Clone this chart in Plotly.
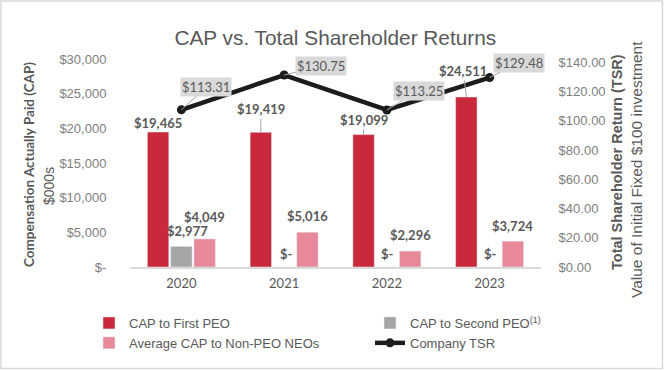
import plotly.graph_objects as go

# ---------------- data ----------------
years = ["2020", "2021", "2022", "2023"]
cap_first_peo = [19465, 19419, 19099, 24511]
cap_second_peo = [2977, 0, 0, 0]
avg_cap_non_peo = [4049, 5016, 2296, 3724]
company_tsr = [113.31, 130.75, 113.25, 129.48]

cap_tick_vals = [0, 5000, 10000, 15000, 20000, 25000, 30000]
cap_tick_text = ["$-", "$5,000", "$10,000", "$15,000", "$20,000", "$25,000", "$30,000"]
tsr_tick_vals = [0, 20, 40, 60, 80, 100, 120, 140]
tsr_tick_text = ["$0.00", "$20.00", "$40.00", "$60.00", "$80.00", "$100.00", "$120.00", "$140.00"]

series_names = ["CAP to First PEO", "CAP to Second PEO<sup>(1)</sup>",
                "Average CAP to Non-PEO NEOs", "Company TSR"]

# ---------------- style ----------------
RED = "#C8293B"
GREY = "#A5A5A5"
PINK = "#E8899A"
LINE = "#1C1C1C"
TXT = "#595959"
TICK = "#808080"
SANS = "Liberation Sans, Arial, sans-serif"
CAL = "Lato, Open Sans, sans-serif"

W, H = 664, 370
ML, MR, MT, MB = 130, 123, 59, 103
PW = W - ML - MR
PH = H - MT - MB
BARGAP = 0.32
BARGROUPGAP = 0.08
cat_w = PW / len(years)
slot = cat_w * (1 - BARGAP) / 3
bar_shift = [-slot, 0, slot]


def money(v):
    return "$-" if v == 0 else "${:,.0f}".format(v)


def px_x(p):
    return (p - ML) / PW


def px_y(p):
    return ((H - MB) - p) / PH


fig = go.Figure()
fig.add_trace(go.Bar(x=years, y=cap_first_peo, name=series_names[0], marker_color=RED,
                     yaxis="y", legend="legend"))
fig.add_trace(go.Bar(x=years, y=cap_second_peo, name=series_names[1], marker_color=GREY,
                     yaxis="y", legend="legend2"))
fig.add_trace(go.Bar(x=years, y=avg_cap_non_peo, name=series_names[2], marker_color=PINK,
                     yaxis="y", legend="legend"))
# invisible trace so that the right (visible) TSR axis is drawn
fig.add_trace(go.Scatter(x=years, y=company_tsr, yaxis="y2", mode="markers",
                         marker=dict(opacity=0), showlegend=False, hoverinfo="skip"))
fig.add_trace(go.Scatter(x=years, y=company_tsr, name=series_names[3], yaxis="y3",
                         mode="lines+markers", legend="legend2",
                         line=dict(color=LINE, width=4.5),
                         marker=dict(color=LINE, size=9)))

annotations = []
label_font = dict(family=CAL, size=13, color=TXT, weight="bold")

# --- bar data labels (x given as category serial number) ---
red_offsets = [9, 23, 15, 26]
red_leader = [False, True, True, True]
red_nudge = [0, 0, 0, -3]
for i, yr in enumerate(years):
    v = cap_first_peo[i]
    if red_leader[i]:
        annotations.append(dict(x=i, y=v, xref="x", yref="y", text=money(v),
                                showarrow=True, arrowhead=0, arrowwidth=1,
                                arrowcolor="#A6A6A6", ax=red_nudge[i], ay=-red_offsets[i],
                                xshift=bar_shift[0], font=label_font))
    else:
        annotations.append(dict(x=i, y=v, xref="x", yref="y", text=money(v),
                                showarrow=False, yanchor="middle",
                                yshift=red_offsets[i], xshift=bar_shift[0] + red_nudge[i],
                                font=label_font))

grey_offsets = [15, 13, 13, 13]
grey_nudge = [6, 2, 1, 1]
pink_offsets = [22, 16, 16, 15]
for i, yr in enumerate(years):
    annotations.append(dict(x=i, y=cap_second_peo[i], xref="x", yref="y",
                            text=money(cap_second_peo[i]), showarrow=False,
                            yanchor="middle", yshift=grey_offsets[i],
                            xshift=bar_shift[1] + grey_nudge[i], font=label_font))
    annotations.append(dict(x=i, y=avg_cap_non_peo[i], xref="x", yref="y",
                            text=money(avg_cap_non_peo[i]), showarrow=False,
                            yanchor="middle", yshift=pink_offsets[i],
                            xshift=bar_shift[2], font=label_font))

# --- TSR labels ---
tsr_ax = [25, 37, 32, 29]
tsr_ay = [-23, -9, -19, -15]
for i, yr in enumerate(years):
    annotations.append(dict(x=i, y=company_tsr[i], xref="x", yref="y3",
                            text="${:.2f}".format(company_tsr[i]),
                            showarrow=True, arrowhead=0, arrowwidth=1,
                            arrowcolor="#A6A6A6", ax=tsr_ax[i], ay=tsr_ay[i],
                            bgcolor="#D9D9D9", borderpad=1,
                            font=dict(family=CAL, size=13, color=TXT)))

# --- axis titles ---
annotations += [
    dict(x=px_x(29), y=px_y(165), xref="paper", yref="paper", xanchor="center",
         yanchor="middle", text="<b>Compensation Actually Paid (CAP)</b>", textangle=-90,
         showarrow=False, font=dict(family=CAL, size=13.5, color=TXT)),
    dict(x=px_x(49), y=px_y(186), xref="paper", yref="paper", xanchor="center",
         yanchor="middle", text="$000s",
         textangle=-90, showarrow=False, font=dict(family=SANS, size=14, color=TXT)),
    dict(x=px_x(617), y=px_y(162), xref="paper", yref="paper", xanchor="center",
         yanchor="middle", text="<b>Total Shareholder Return (TSR)</b>", textangle=-90,
         showarrow=False, font=dict(family=SANS, size=14.5, color=TXT)),
    dict(x=px_x(636), y=px_y(170), xref="paper", yref="paper", xanchor="center",
         yanchor="middle", text="Value of Initial Fixed $100 investment", textangle=-90,
         showarrow=False, font=dict(family=SANS, size=15.5, color=TXT)),
]

legend_font = dict(family=SANS, size=13, color=TXT)
fig.update_layout(
    width=W, height=H,
    margin=dict(l=ML, r=MR, t=MT, b=MB, autoexpand=False),
    paper_bgcolor="white", plot_bgcolor="white",
    barmode="group", bargap=BARGAP, bargroupgap=BARGROUPGAP,
    title=dict(text="CAP vs. Total Shareholder Returns", x=0.505, xanchor="center",
               y=1 - 38 / H, yanchor="middle",
               font=dict(family=SANS, size=20.8, color=TXT)),
    xaxis=dict(type="category", categoryorder="array", categoryarray=years,
               range=[-0.5, len(years) - 0.5], autorange=False,
               showgrid=False, showline=True, linecolor="#D9D9D9",
               linewidth=1.5, ticks="outside", ticklen=4, tickcolor="rgba(0,0,0,0)",
               tickfont=dict(family=CAL, size=13, color=TXT)),
    yaxis=dict(range=[0, 30000], autorange=False, tickvals=cap_tick_vals,
               ticktext=cap_tick_text,
               showgrid=False, zeroline=False, showline=False,
               ticks="outside", ticklen=20, tickcolor="rgba(0,0,0,0)",
               tickfont=dict(family=SANS, size=13, color=TICK)),
    yaxis2=dict(range=[0, 142.3], autorange=False, tickvals=tsr_tick_vals,
                ticktext=tsr_tick_text,
                overlaying="y", side="right", showgrid=False, zeroline=False,
                showline=False, ticks="outside", ticklen=14, tickcolor="rgba(0,0,0,0)",
                tickfont=dict(family=SANS, size=13, color=TICK)),
    yaxis3=dict(range=[34.5, 138.8], autorange=False, overlaying="y", side="right",
                visible=False),
    legend=dict(orientation="v", x=px_x(89), xanchor="left", y=px_y(308),
                yanchor="top", font=legend_font, tracegroupgap=0,
                bgcolor="rgba(0,0,0,0)"),
    legend2=dict(orientation="v", x=px_x(370), xanchor="left", y=px_y(308),
                 yanchor="top", font=legend_font, tracegroupgap=0,
                 bgcolor="rgba(0,0,0,0)"),
    annotations=annotations,
    shapes=[dict(type="rect", xref="paper", yref="paper",
                 x0=px_x(1), x1=px_x(W - 1.5), y0=px_y(H - 1.5), y1=px_y(1),
                 line=dict(color="#D9D9D9", width=1.5), layer="below")],
    showlegend=True,
)

fig.write_html("out.html", config={"displayModeBar": False},
               post_script="document.body.style.margin='0px';")
